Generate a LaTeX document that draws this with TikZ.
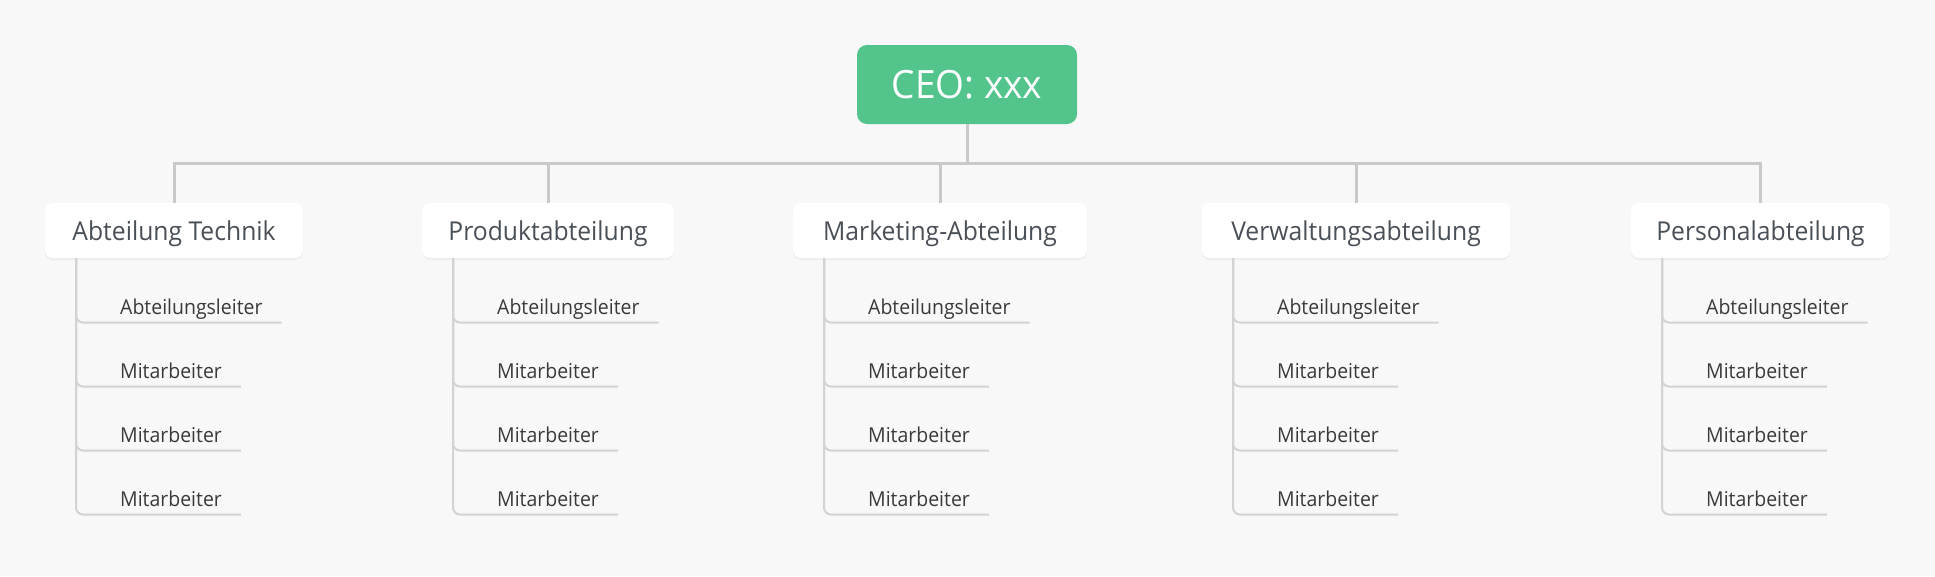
\documentclass[tikz,border=0pt]{standalone}
\usepackage{fontspec}
\setmainfont{Open Sans}[FakeStretch=0.95]
\usetikzlibrary{positioning}
\usetikzlibrary{shadows}
\definecolor{ceogreen}{HTML}{52C48C}
\definecolor{canvas}{HTML}{F8F8F8}
\definecolor{deptink}{HTML}{4A5057}
\definecolor{memberink}{HTML}{3A3A3A}
\definecolor{busgray}{HTML}{C9C9C9}
\definecolor{twiggray}{HTML}{D3D3D3}

\begin{document}
\begin{tikzpicture}[x=1pt,y=-1pt,
    ceo/.style={fill=ceogreen,text=white,rounded corners=10pt,minimum width=220pt,minimum height=79pt,font=\fontsize{39}{44}\selectfont},
    dept/.style={fill=white,text=deptink,rounded corners=8pt,minimum height=55pt,text height=20pt,text depth=1pt,
        font=\fontsize{26}{30}\selectfont,drop shadow={shadow xshift=0pt,shadow yshift=-2pt,opacity=0.08}},
    member/.style={text=memberink,inner sep=0pt,font=\fontsize{20.5}{24}\selectfont},
    bus/.style={draw=busgray,line width=3pt},
    twig/.style={draw=twiggray,line width=2pt,rounded corners=7pt}]
        \fill[canvas] (0,0) rectangle (1935,576);
        \useasboundingbox (0,0) rectangle (1935,576);

        \node[ceo] (ceo) at (967,84.5) {CEO: xxx};
        \coordinate (bus) at (967,163);

        \node[dept,minimum width=258pt] (d1) at (174,230.5) {Abteilung Technik};
        \node[dept,minimum width=252pt] (d2) at (548,230.5) {Produktabteilung};
        \node[dept,minimum width=294pt] (d3) at (940,230.5) {Marketing-Abteilung};
        \node[dept,minimum width=308pt] (d4) at (1356,230.5) {Verwaltungsabteilung};
        \node[dept,minimum width=259pt] (d5) at (1760.5,230.5) {Personalabteilung};

        \foreach \d in {d1,d2,d3,d4,d5}
            \draw[bus] (ceo.south) -- (bus) -| (\d.north);

        \foreach \d/\l in {d1/45,d2/422,d3/793,d4/1202,d5/1631} {
            \coordinate (\d-stem) at ({\l+31},258);
            \foreach \t [count=\k] in {Abteilungsleiter,Mitarbeiter,Mitarbeiter,Mitarbeiter} {
                \node[member,anchor=base west] (\d-\k) at ({\l+75},{314+64*(\k-1)}) {\t};
                \draw[twig] (\d-stem) |- ([xshift=19pt,yshift=-8.5pt]\d-\k.base east);
            }
        }
    \end{tikzpicture}
\end{document}
